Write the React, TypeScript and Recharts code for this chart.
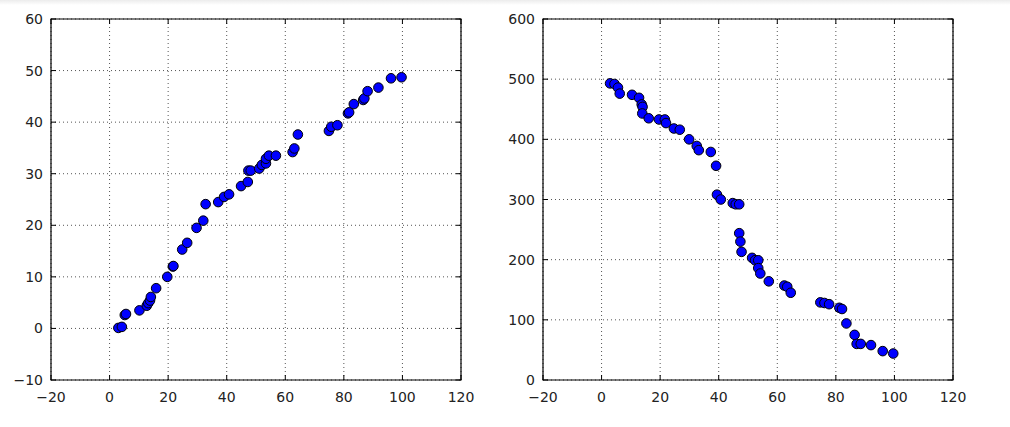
import { ScatterChart, Scatter, XAxis, YAxis, CartesianGrid, ReferenceArea } from "recharts";

// shared x axis ticks
const xTicks = [-20, 0, 20, 40, 60, 80, 100, 120];

// left panel
const leftYTicks = [-10, 0, 10, 20, 30, 40, 50, 60];
const leftX = [3.0, 4.2, 5.2, 5.6, 10.2, 12.7, 13.2, 13.8, 14.1, 15.9, 19.7, 21.6, 21.8, 24.8, 26.5, 29.7, 32.0, 32.8, 37.1, 39.1, 40.8, 44.9, 47.2, 47.4, 48.2, 51.1, 52.0, 53.4, 53.4, 54.4, 56.8, 62.5, 63.1, 64.3, 74.9, 75.7, 77.8, 81.4, 81.8, 83.4, 86.6, 87.0, 88.1, 91.8, 96.1, 99.7];
const leftY = [0.1, 0.3, 2.6, 2.8, 3.5, 4.4, 4.9, 5.4, 6.1, 7.8, 10.0, 12.0, 12.1, 15.3, 16.6, 19.5, 20.9, 24.1, 24.5, 25.5, 26.0, 27.6, 28.4, 30.6, 30.6, 31.0, 31.7, 32.0, 32.9, 33.5, 33.5, 34.2, 34.9, 37.6, 38.3, 39.1, 39.4, 41.7, 41.9, 43.5, 44.3, 44.6, 46.0, 46.7, 48.5, 48.7];

// right panel
const rightYTicks = [0, 100, 200, 300, 400, 500, 600];
const rightX = [2.9, 4.4, 5.6, 6.2, 10.4, 12.8, 13.7, 14.0, 13.9, 16.1, 19.6, 21.6, 22.0, 24.7, 26.7, 29.9, 32.5, 33.2, 37.3, 39.1, 39.4, 40.7, 44.8, 45.8, 47.0, 47.0, 47.4, 47.8, 51.4, 52.4, 53.5, 53.5, 54.2, 57.1, 62.4, 63.4, 64.6, 74.7, 76.1, 77.7, 81.2, 82.1, 83.6, 86.4, 87.1, 88.5, 92.0, 96.0, 99.6];
const rightY = [493, 492, 486, 476, 474, 469, 458, 454, 443, 435, 433, 433, 427, 418, 416, 400, 389, 382, 379, 356, 308, 300, 294, 292, 292, 244, 230, 213, 203, 199, 199, 186, 177, 164, 157, 155, 145, 129, 128, 126, 120, 118, 94, 75, 60, 60, 58, 48, 44];

const FONT = "'DejaVu Sans', sans-serif";
const minus = (v: number) => String(v).replace("-", "\u2212");

interface PanelProps {
  xs: number[];
  ys: number[];
  yTicks: number[];
  left: number;
  width: number;
  yAxisWidth: number;
}

function Panel({ xs, ys, yTicks, left, width, yAxisWidth }: PanelProps) {
  const data = xs.map((x, i) => ({ x, y: ys[i] }));
  const top = 19;
  const bottom = 380;
  const plotL = yAxisWidth;
  const plotR = yAxisWidth + 410;
  const yMin = yTicks[0];
  const yMax = yTicks[yTicks.length - 1];

  // matplotlib-style inward ticks on all four sides
  const XTick = (p: any) => {
    const x = p.payload?.coordinate ?? p.x;
    return (
      <g>
        <line x1={x} x2={x} y1={bottom} y2={bottom - 5} stroke="#000" />
        <line x1={x} x2={x} y1={top} y2={top + 5} stroke="#000" />
        <text x={x} y={402} textAnchor="middle" fontSize={14} fontFamily={FONT} fill="#222">
          {minus(p.payload.value)}
        </text>
      </g>
    );
  };
  const YTick = (p: any) => {
    const y = p.payload?.coordinate ?? p.y;
    return (
      <g>
        <line x1={plotL} x2={plotL + 5} y1={y} y2={y} stroke="#000" />
        <line x1={plotR} x2={plotR - 5} y1={y} y2={y} stroke="#000" />
        <text x={plotL - 8} y={y} dy="0.36em" textAnchor="end" fontSize={14} fontFamily={FONT} fill="#222">
          {minus(p.payload.value)}
        </text>
      </g>
    );
  };

  return (
    <div style={{ position: "absolute", left, top: 0 }}>
      <ScatterChart width={width} height={427} margin={{ top, right: width - plotR, left: 0, bottom: 0 }}>
        <CartesianGrid stroke="#555" strokeDasharray="1 3" />
        <XAxis
          type="number"
          dataKey="x"
          domain={[-20, 120]}
          ticks={xTicks}
          height={47}
          axisLine={false}
          tickLine={false}
          tickSize={0}
          tick={XTick}
          interval={0}
          allowDataOverflow
        />
        <YAxis
          type="number"
          dataKey="y"
          domain={[yMin, yMax]}
          ticks={yTicks}
          width={yAxisWidth}
          axisLine={false}
          tickLine={false}
          tickSize={0}
          tick={YTick}
          interval={0}
          allowDataOverflow
        />
        <ReferenceArea x1={-20} x2={120} y1={yMin} y2={yMax} fill="none" stroke="#000" strokeWidth={1.2} />
        <Scatter
          data={data}
          isAnimationActive={false}
          shape={(s: any) => <circle cx={s.cx} cy={s.cy} r={4.8} fill="#0000ff" stroke="#000" strokeWidth={1} />}
        />
      </ScatterChart>
    </div>
  );
}

export default function App() {
  return (
    <div style={{ position: "absolute", left: 0, top: 0, width: 1010, height: 427, background: "#fff", overflow: "hidden" }}>
      <div style={{ position: "absolute", left: 0, top: 0, width: 1010, height: 5, background: "linear-gradient(#ececec, #fff)" }} />
      <Panel xs={leftX} ys={leftY} yTicks={leftYTicks} left={0} width={490} yAxisWidth={51} />
      <Panel xs={rightX} ys={rightY} yTicks={rightYTicks} left={490} width={520} yAxisWidth={53} />
    </div>
  );
}
